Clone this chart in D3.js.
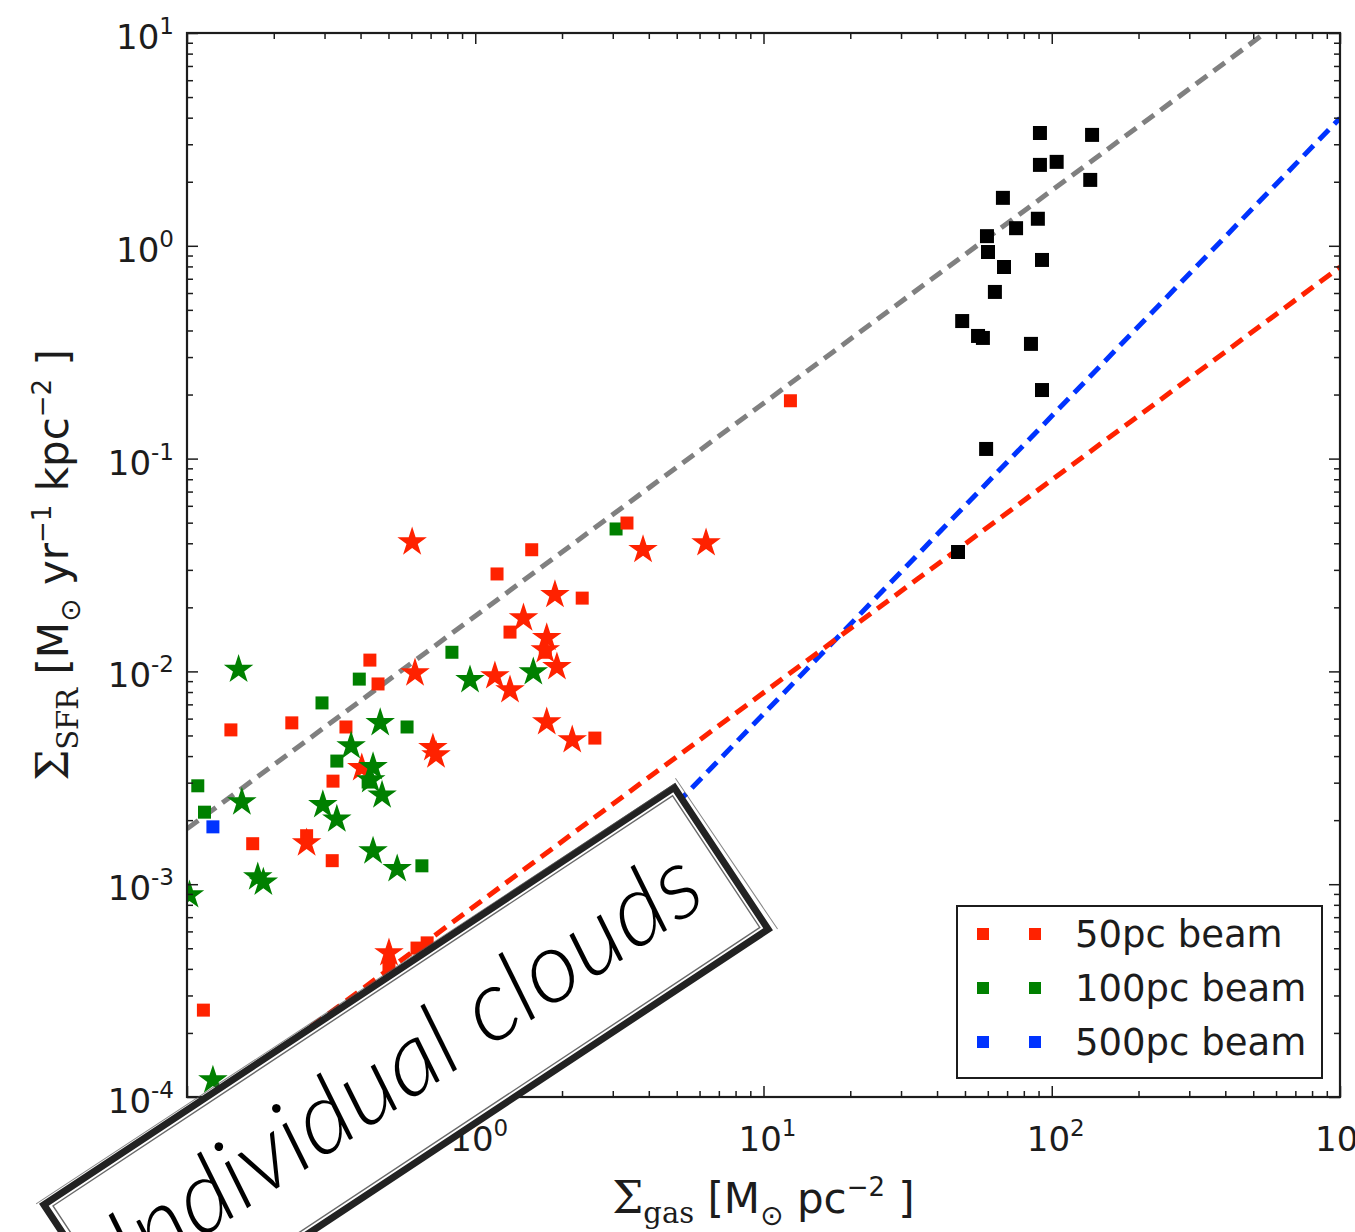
<!DOCTYPE html>
<html>
<head>
<meta charset="utf-8">
<script src="https://cdn.jsdelivr.net/npm/d3@7"></script>
<style>
  html, body { margin: 0; padding: 0; background: #fff; }
  svg { display: block; }
</style>
</head>
<body>
<svg id="chart" width="1355" height="1232"></svg>
<script>
// Gas surface density [Msun pc^-2] and SFR surface density [Msun yr^-1 kpc^-2]

// Whole galaxies (black squares)
const galaxyGas = [91.0, 138, 91.0, 104, 136, 67.7, 89.5, 75.2, 59.6, 60.1, 68.3, 92.5, 63.5, 48.9, 55.5, 57.7, 84.7, 92.5, 59.2, 47.3];
const galaxySfr = [3.39, 3.32, 2.40, 2.48, 2.04, 1.68, 1.34, 1.21, 1.11, 0.935, 0.795, 0.858, 0.607, 0.443, 0.377, 0.369, 0.346, 0.210, 0.111, 0.0364];

// 50 pc beam
const beam50SquareGas = [3.36, 1.57, 1.19, 2.35, 1.32, 1.75, 0.431, 0.460, 0.142, 0.231, 0.356, 0.321, 0.169, 0.319, 2.60, 12.4, 0.114, 0.628, 0.681, 0.260, 0.502];
const beam50SquareSfr = [0.0498, 0.0373, 0.0287, 0.0221, 0.0153, 0.0123, 0.0113, 0.00873, 0.00531, 0.00573, 0.00548, 0.00305, 0.00155, 0.00129, 0.00486, 0.187, 0.000256, 0.000501, 0.000530, 0.00169, 0.000417];
const beam50StarGas = [3.82, 6.32, 0.604, 1.89, 1.47, 1.77, 1.75, 1.92, 1.17, 1.32, 1.77, 2.17, 0.618, 0.713, 0.731, 0.404, 0.260, 0.502];
const beam50StarSfr = [0.0373, 0.0401, 0.0405, 0.0229, 0.0178, 0.0144, 0.0126, 0.0105, 0.00951, 0.00818, 0.00578, 0.00476, 0.00982, 0.00437, 0.00404, 0.00352, 0.00156, 0.000475];

// 100 pc beam
const beam100SquareGas = [0.830, 0.396, 0.294, 0.580, 0.331, 0.425, 0.109, 0.115, 0.653, 3.08];
const beam100SquareSfr = [0.0123, 0.00920, 0.00711, 0.00548, 0.00379, 0.00302, 0.00290, 0.00218, 0.00122, 0.0467];
const beam100StarGas = [0.151, 0.468, 0.371, 0.442, 0.434, 0.475, 0.155, 0.296, 0.331, 0.442, 0.536, 0.176, 0.184, 0.102, 0.959, 1.59, 0.123];
const beam100StarSfr = [0.0102, 0.00573, 0.00446, 0.00356, 0.00309, 0.00262, 0.00243, 0.00236, 0.00202, 0.00143, 0.00118, 0.00108, 0.00102, 0.000889, 0.00912, 0.00993, 0.000120];

// 500 pc beam
const beam500SquareGas = [0.123];
const beam500SquareSfr = [0.00186];

// Reference relations, given at the two ends of the gas range
const relationGas = [0.1, 1000];
const denseGasSfr = [0.00182, 18.2];
const linearSfr = [7.94e-5, 0.794];
const kennicuttSfr = [1.0e-5, 3.98];

// Legend and ticks
const legendLabels = ["50pc beam", "100pc beam", "500pc beam"];
const xTickValues = [0.1, 1, 10, 100, 1000];
const xTickExponents = ["-1", "0", "1", "2", "3"];
const yTickValues = [1e-4, 1e-3, 1e-2, 1e-1, 1, 10];
const yTickExponents = ["-4", "-3", "-2", "-1", "0", "1"];

(function () {
  const RED = "#ff2200", GREEN = "#008000", BLUE = "#0033ff", BLACK = "#000000", GRAY = "#808080";
  const INK = "#1c1c1c";
  const SANS = "'DejaVu Sans', 'Bitstream Vera Sans', sans-serif";
  const SERIF = "'DejaVu Serif', 'Liberation Serif', serif";

  const svg = d3.select("#chart");
  svg.append("rect").attr("width", 1355).attr("height", 1232).attr("fill", "#fff");

  const pLeft = 187, pRight = 1340, pTop = 33, pBottom = 1097;
  const x = d3.scaleLog().domain([0.1, 1000]).range([pLeft, pRight]);
  const y = d3.scaleLog().domain([1e-4, 10]).range([pBottom, pTop]);

  svg.append("defs").append("clipPath").attr("id", "plot-clip")
    .append("rect").attr("x", pLeft).attr("y", pTop).attr("width", pRight - pLeft).attr("height", pBottom - pTop);

  const plot = svg.append("g").attr("clip-path", "url(#plot-clip)");

  // Dashed relations
  const line = d3.line().x(d => x(d[0])).y(d => y(d[1]));
  [[denseGasSfr, GRAY], [kennicuttSfr, BLUE], [linearSfr, RED]].forEach(([sfr, color]) => {
    plot.append("path")
      .datum(relationGas.map((g, i) => [g, sfr[i]]))
      .attr("d", line)
      .attr("fill", "none")
      .attr("stroke", color)
      .attr("stroke-width", 5)
      .attr("stroke-dasharray", "14 8");
  });

  // Markers
  const square = d3.symbol().type(d3.symbolSquare).size(169);
  const bigSquare = d3.symbol().type(d3.symbolSquare).size(196);
  const star = d3.symbol().type(d3.symbolStar).size(270);

  function drawSeries(gas, sfr, shape, color) {
    plot.append("g").selectAll("path")
      .data(gas.map((g, i) => [g, sfr[i]]))
      .join("path")
      .attr("transform", d => `translate(${x(d[0])},${y(d[1])})`)
      .attr("d", shape)
      .attr("fill", color);
  }
  drawSeries(beam100SquareGas, beam100SquareSfr, square, GREEN);
  drawSeries(beam50SquareGas, beam50SquareSfr, square, RED);
  drawSeries(beam500SquareGas, beam500SquareSfr, square, BLUE);
  drawSeries(beam50StarGas, beam50StarSfr, star, RED);
  drawSeries(beam100StarGas, beam100StarSfr, star, GREEN);
  drawSeries(galaxyGas, galaxySfr, bigSquare, BLACK);

  // Axes: inward ticks on all four sides
  const minorOf = (scale) => {
    const [a, b] = scale.domain();
    const out = [];
    for (let e = Math.round(Math.log10(a)); e < Math.round(Math.log10(b)); e++) {
      for (let m = 2; m <= 9; m++) out.push(m * Math.pow(10, e));
    }
    return out;
  };
  const xMinor = minorOf(x), yMinor = minorOf(y);

  function tickAxis(axisFn, scale, values, size, transform) {
    const g = svg.append("g").attr("transform", transform)
      .call(axisFn(scale).tickValues(values).tickSize(-size).tickFormat(""));
    g.select(".domain").remove();
    g.selectAll("line").attr("stroke", INK).attr("stroke-width", 1.5);
  }
  tickAxis(d3.axisBottom, x, xTickValues, 11, `translate(0,${pBottom})`);
  tickAxis(d3.axisBottom, x, xMinor, 6, `translate(0,${pBottom})`);
  tickAxis(d3.axisTop, x, xTickValues, 11, `translate(0,${pTop})`);
  tickAxis(d3.axisTop, x, xMinor, 6, `translate(0,${pTop})`);
  tickAxis(d3.axisLeft, y, yTickValues, 11, `translate(${pLeft},0)`);
  tickAxis(d3.axisLeft, y, yMinor, 6, `translate(${pLeft},0)`);
  tickAxis(d3.axisRight, y, yTickValues, 11, `translate(${pRight},0)`);
  tickAxis(d3.axisRight, y, yMinor, 6, `translate(${pRight},0)`);

  svg.append("rect")
    .attr("x", pLeft).attr("y", pTop).attr("width", pRight - pLeft).attr("height", pBottom - pTop)
    .attr("fill", "none").attr("stroke", INK).attr("stroke-width", 2.2);

  // Tick labels as powers of ten
  function powerLabel(sel, exp) {
    sel.append("tspan").text("10");
    sel.append("tspan").attr("font-size", 23).attr("dy", -15).text(exp);
  }
  xTickValues.forEach((v, i) => {
    const t = svg.append("text")
      .attr("x", x(v) + 4).attr("y", pBottom + 54)
      .attr("text-anchor", "middle")
      .attr("font-family", SANS).attr("font-size", 34).attr("fill", INK);
    powerLabel(t, xTickExponents[i]);
  });
  yTickValues.forEach((v, i) => {
    const t = svg.append("text")
      .attr("x", 174).attr("y", y(v) + 16)
      .attr("text-anchor", "end")
      .attr("font-family", SANS).attr("font-size", 34).attr("fill", INK);
    powerLabel(t, yTickExponents[i]);
  });

  // Axis titles
  function axisTitle(t, sub, parts) {
    t.append("tspan").attr("font-family", SERIF).attr("font-size", 44).text("\u03A3");
    t.append("tspan").attr("font-family", SERIF).attr("font-size", 29).attr("dy", 10).text(sub);
    let shift = 10;
    parts.forEach(p => {
      const dy = (p.dy || 0) - shift;
      shift = p.dy || 0;
      t.append("tspan").attr("font-size", p.size || 42).attr("dy", dy).text(p.text);
    });
  }
  const xTitle = svg.append("text")
    .attr("x", (pLeft + pRight) / 2).attr("y", 1213)
    .attr("text-anchor", "middle")
    .attr("font-family", SANS).attr("fill", INK);
  axisTitle(xTitle, "gas", [
    { text: " [M" },
    { text: "\u2299", size: 28, dy: 12 },
    { text: " pc" },
    { text: "\u22122", size: 26, dy: -17 },
    { text: " ]" }
  ]);

  const yTitle = svg.append("text")
    .attr("transform", `translate(68,${(pTop + pBottom) / 2}) rotate(-90)`)
    .attr("text-anchor", "middle")
    .attr("font-family", SANS).attr("fill", INK);
  axisTitle(yTitle, "SFR", [
    { text: " [M" },
    { text: "\u2299", size: 28, dy: 12 },
    { text: " yr" },
    { text: "\u22121", size: 26, dy: -17 },
    { text: " kpc" },
    { text: "\u22122", size: 26, dy: -17 },
    { text: " ]" }
  ]);

  // Legend
  const legendColors = [RED, GREEN, BLUE];
  const legend = svg.append("g");
  legend.append("rect")
    .attr("x", 957).attr("y", 906).attr("width", 365).attr("height", 172)
    .attr("fill", "#fff").attr("stroke", INK).attr("stroke-width", 2);
  legendLabels.forEach((label, i) => {
    const cy = 934 + i * 54;
    [983, 1035].forEach(cx => {
      legend.append("rect").attr("x", cx - 6).attr("y", cy - 6).attr("width", 12).attr("height", 12)
        .attr("fill", legendColors[i]);
    });
    legend.append("text")
      .attr("x", 1075).attr("y", cy + 13)
      .attr("font-family", SANS).attr("font-size", 37).attr("fill", INK)
      .text(label);
  });

  // Annotation box
  const note = svg.append("g").attr("transform", "translate(406,1067) rotate(-33.5)");
  note.append("rect")
    .attr("x", -378).attr("y", -85).attr("width", 756).attr("height", 170)
    .attr("fill", "#fff").attr("stroke", "#222").attr("stroke-width", 7);
  note.append("rect")
    .attr("x", -371).attr("y", -79).attr("width", 743).attr("height", 158)
    .attr("fill", "none").attr("stroke", "#444").attr("stroke-width", 1.4).attr("opacity", 0.8);
  note.append("path")
    .attr("d", "M-384,-90 L380,-88 M384,-92 L386,90")
    .attr("fill", "none").attr("stroke", "#555").attr("stroke-width", 1).attr("opacity", 0.7);
  note.append("text")
    .attr("x", 0).attr("y", 30)
    .attr("text-anchor", "middle")
    .attr("font-family", "Lato, 'Open Sans', sans-serif")
    .attr("font-style", "italic").attr("font-weight", 300)
    .attr("font-size", 100)
    .attr("textLength", 690).attr("lengthAdjust", "spacingAndGlyphs")
    .attr("fill", "#000")
    .text("Individual clouds");
})();
</script>
</body>
</html>
